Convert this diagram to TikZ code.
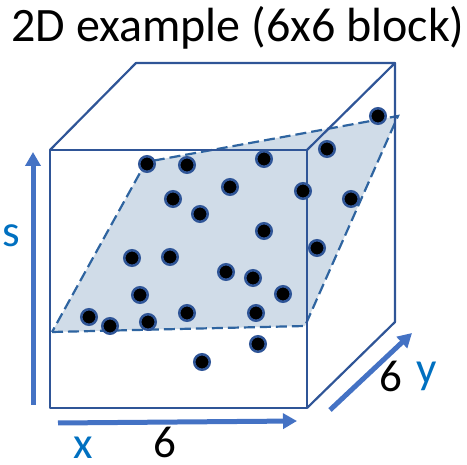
\documentclass[tikz,border=0pt]{standalone}
\usepackage{fontspec}
\setmainfont{Carlito}
\usetikzlibrary{arrows.meta}
\definecolor{cubeblue}{HTML}{2F5597}
\definecolor{planefill}{HTML}{D0DCE8}
\definecolor{planeline}{HTML}{2E64A0}
\definecolor{arrowblue}{HTML}{4472C4}
\definecolor{labelblue}{HTML}{0070C0}
\begin{document}
\begin{tikzpicture}[x=1pt,y=-1pt,
  cubeline/.style={draw=cubeblue,line width=2.2pt,line join=round},
  planestyle/.style={fill=planefill,draw=planeline,line width=2.2pt,dash pattern=on 11pt off 5pt},
  dot/.style={circle,fill=black,draw=cubeblue,line width=2.5pt,inner sep=0pt,minimum size=15.5pt},
  axisarrow/.style={draw=arrowblue,line width=5pt,-{Triangle[length=14pt,width=15pt]}},
  bigtext/.style={font=\fontsize{45}{50}\selectfont,inner sep=0pt,anchor=base},
  axislabel/.style={bigtext,text=labelblue}]
\useasboundingbox (0,0) rectangle (467,465);
% cube corners
\coordinate (F1) at (50,150);
\coordinate (F2) at (307,150);
\coordinate (F3) at (307,408);
\coordinate (F4) at (50,408);
\coordinate (B1) at (136,63);
\coordinate (B2) at (395,63);
\coordinate (B3) at (395,322);
% plane corners
\coordinate (P1) at (52,332);
\coordinate (P2) at (305,326);
\coordinate (P3) at (398,116);
\coordinate (P4) at (146,162);
\path[planestyle] (P1) -- (P2) -- (P3) -- (P4) -- cycle;
% cube
\draw[cubeline] (F1) -- (F2) -- (F3) -- (F4) -- cycle;
\draw[cubeline] (F1) -- (B1) -- (B2) -- (F2);
\draw[cubeline] (B2) -- (B3) -- (F3);
% dots
\foreach \i/\x/\y in {1/378/116, 2/327/149, 3/147/164, 4/187/165, 5/264/159,
  6/173/199, 7/230/187, 8/303/191, 9/351/199, 10/200/214, 11/264/231,
  12/317/248, 13/132/258, 14/170/257, 15/226/272, 16/253/278, 17/283/294,
  18/140/295, 19/89/317, 20/110/326, 21/148/322, 22/187/313, 23/256/313,
  24/258/344, 25/202/362}
  \node[dot] (d\i) at (\x,\y) {};
% axes
\coordinate (s0) at (33,405);
\coordinate (s1) at (33,152);
\coordinate (x0) at (58,423);
\coordinate (x1) at (297,421);
\coordinate (y0) at (330,410);
\coordinate (y1) at (412,333);
\draw[axisarrow] (s0) -- (s1);
\draw[axisarrow] (x0) -- (x1);
\draw[axisarrow] (y0) -- (y1);
% labels
\node[bigtext,font=\fontsize{48}{54}\selectfont] (title) at (238,42) {2D example (6x6 block)};
\node[axislabel] (ls) at (11,247) {s};
\node[axislabel] (lx) at (83,459) {x};
\node[bigtext] (l6x) at (165,458) {6};
\node[bigtext] (l6y) at (391,392) {6};
\node[axislabel] (ly) at (427,384) {y};
\end{tikzpicture}
\end{document}
